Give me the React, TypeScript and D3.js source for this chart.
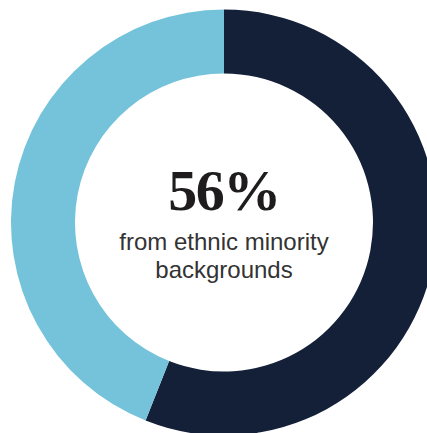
import React from "react";
import * as d3 from "d3";

const categories = ["Ethnic minority", "Other"];
const values = [56, 44];
const colors = ["#132038", "#74c3da"];
const headline = "56%";
const captionLines = ["from ethnic minority", "backgrounds"];

export default function App() {
  const width = 427;
  const height = 433;
  const cx = 224;
  const cy = 222.5;
  const outerR = 213;
  const innerR = 149;

  const pie = d3.pie<number>().sort(null).value((d) => d)(values);
  const arc = d3.arc<d3.PieArcDatum<number>>().innerRadius(innerR).outerRadius(outerR);

  return (
    <svg
      width={width}
      height={height}
      style={{ position: "absolute", left: 0, top: 0, display: "block" }}
    >
      <rect width={width} height={height} fill="#ffffff" />
      <g transform={`translate(${cx},${cy})`}>
        {pie.map((p, i) => (
          <path key={categories[i]} d={arc(p) ?? ""} fill={colors[i]} />
        ))}
        <text
          y={-12.5}
          textAnchor="middle"
          fontFamily="'Liberation Serif', 'DejaVu Serif', serif"
          fontWeight="bold"
          fontSize={58}
          letterSpacing={-1.5}
          fill="#1f1c1d"
        >
          {headline}
        </text>
        {captionLines.map((line, i) => (
          <text
            key={line}
            y={27.5 + i * 28}
            textAnchor="middle"
            fontFamily="'Liberation Sans', Arial, sans-serif"
            fontSize={24}
            fill="#333333"
          >
            {line}
          </text>
        ))}
      </g>
    </svg>
  );
}
